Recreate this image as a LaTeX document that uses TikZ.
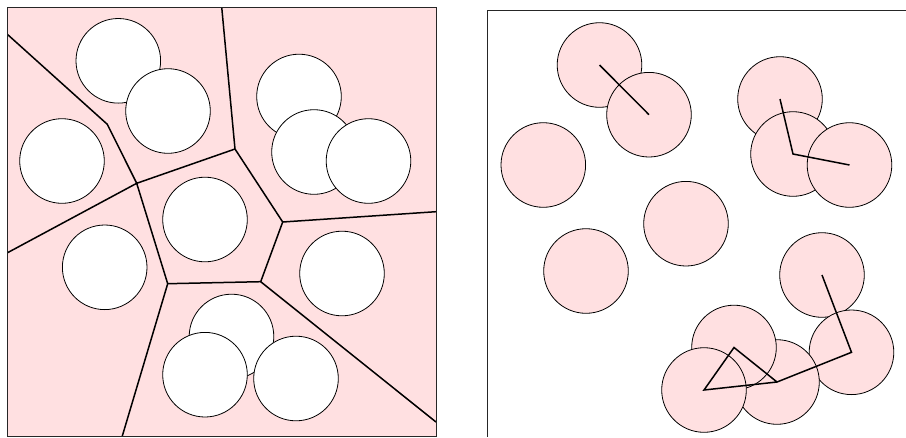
\documentclass[tikz,border=0pt]{standalone}
\definecolor{pinkfill}{RGB}{255,224,225}
\begin{document}
\begin{tikzpicture}[x=1pt,y=-1pt,
  disc/.style={circle,draw=black,line width=0.8pt,inner sep=0pt,minimum size=84.6pt},
  hole/.style={disc,fill=white},
  bead/.style={disc,fill=pinkfill},
  cellline/.style={line width=1.5pt,line join=miter},
  chain/.style={line width=1.5pt,line join=miter},
  frameline/.style={line width=0.9pt,draw=black!85}]
\useasboundingbox (0,0) rectangle (906,437);
% ---------- left panel ----------
\fill[pinkfill] (7,7) rectangle (436,436);
\coordinate (A) at (107.3,124.3);
\coordinate (B) at (136.7,183.3);
\coordinate (C) at (235,149);
\coordinate (D) at (282.7,222);
\coordinate (E) at (260.7,281.7);
\coordinate (F) at (167.7,283.7);
\coordinate (L1) at (7,34);
\coordinate (T1) at (221.7,7);
\coordinate (L2) at (7,253);
\coordinate (R1) at (436,211.7);
\coordinate (B1) at (122.3,436);
\coordinate (R2) at (436,422);
\begin{scope}
\clip (7,7) rectangle (436,436);
\draw[cellline] (L1) -- (A) -- (B) -- (C) -- (T1);
\draw[cellline] (B) -- (L2);
\draw[cellline] (C) -- (D) -- (E) -- (F) -- (B);
\draw[cellline] (D) -- (R1);
\draw[cellline] (F) -- (B1);
\draw[cellline] (E) -- (R2);
\end{scope}
\node[hole] (l1) at (118.3,60.8) {};
\node[hole] (l2) at (168,111) {};
\node[hole] (l3) at (62,161) {};
\node[hole] (l4) at (299,96.5) {};
\node[hole] (l5) at (314,152) {};
\node[hole] (l6) at (368.5,161) {};
\node[hole] (l7) at (205,219.5) {};
\node[hole] (l8) at (104.7,267.3) {};
\node[hole] (l9) at (342,273.5) {};
\node[hole] (l10) at (231.5,336.5) {};
\node[hole] (l11) at (205,374.7) {};
\node[hole] (l12) at (296,378.5) {};
\draw[frameline] (7,7) rectangle (436,436);
% ---------- right panel ----------
\draw[frameline] (906,10.7) -- (487.3,10.7) -- (487.3,437);
\node[bead] (r1) at (599.5,65) {};
\node[bead] (r2) at (649,114.7) {};
\node[bead] (r3) at (543.3,165) {};
\node[bead] (r4) at (780,99) {};
\node[bead] (r5) at (793,154) {};
\node[bead] (r6) at (849.5,165) {};
\node[bead] (r7) at (686,223.7) {};
\node[bead] (r8) at (586,271) {};
\node[bead] (r9) at (822,275) {};
\node[bead] (r13) at (851.5,352.3) {};
\node[bead] (r11) at (777,382) {};
\node[bead] (r10) at (734,347.5) {};
\node[bead] (r12) at (704,390) {};
\draw[chain] (r1.center) -- (r2.center);
\draw[chain] (r4.center) -- (r5.center) -- (r6.center);
\draw[chain] (r9.center) -- (r13.center) -- (r11.center) -- (r10.center) -- (r12.center) -- (r11.center);
\end{tikzpicture}
\end{document}
